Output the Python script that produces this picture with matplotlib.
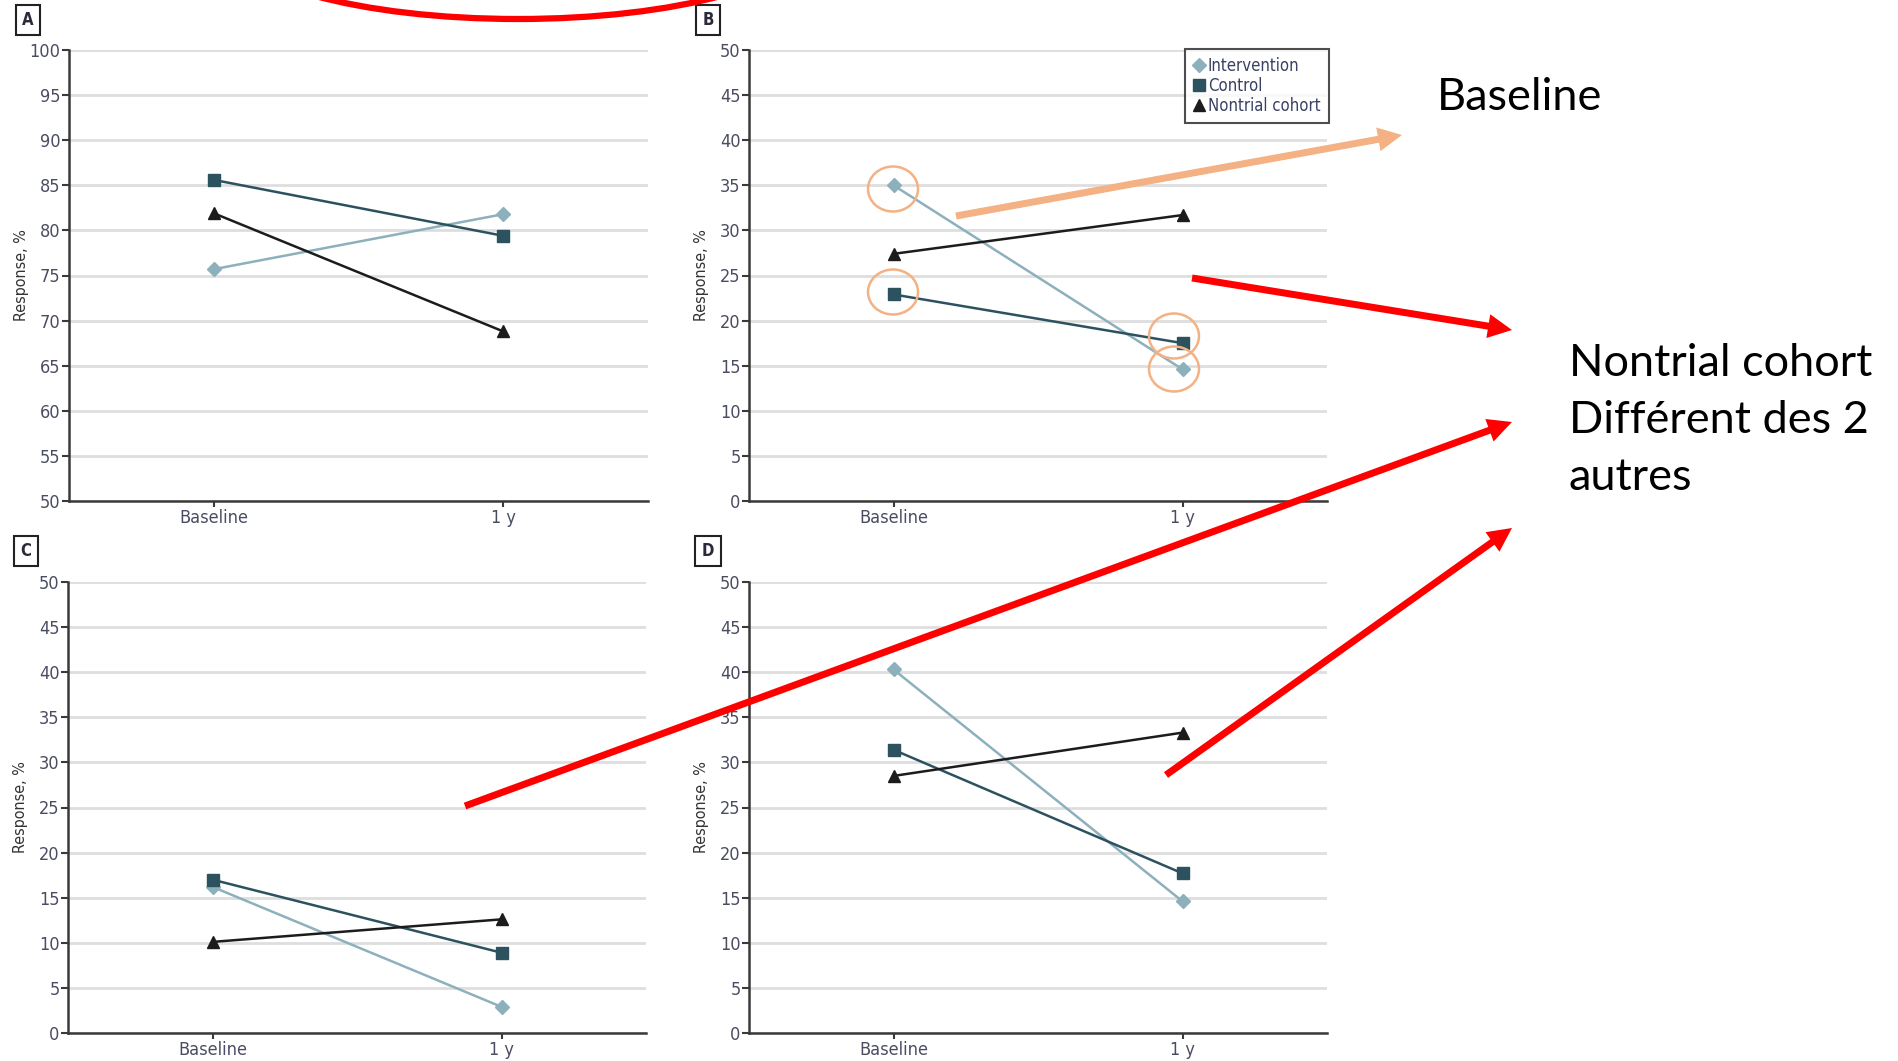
import matplotlib
matplotlib.use("Agg")
import matplotlib.pyplot as plt
from matplotlib import patches
from matplotlib.font_manager import FontProperties

# ---------------- data ----------------
timepoints = ["Baseline", "1 y"]
series_names = ["Intervention", "Control", "Nontrial cohort"]

panel_labels = ["A", "B", "C", "D"]
panel_ylims = [(50, 100), (0, 50), (0, 50), (0, 50)]

intervention_A = [75.7, 81.8]
control_A = [85.6, 79.4]
nontrial_A = [81.9, 68.8]

intervention_B = [35.0, 14.6]
control_B = [22.9, 17.5]
nontrial_B = [27.4, 31.7]

intervention_C = [16.2, 2.9]
control_C = [17.0, 8.9]
nontrial_C = [10.1, 12.6]

intervention_D = [40.3, 14.6]
control_D = [31.4, 17.7]
nontrial_D = [28.5, 33.3]

panel_data = {
    "A": [intervention_A, control_A, nontrial_A],
    "B": [intervention_B, control_B, nontrial_B],
    "C": [intervention_C, control_C, nontrial_C],
    "D": [intervention_D, control_D, nontrial_D],
}

annot_baseline = "Baseline"
annot_nontrial_lines = ["Nontrial cohort", "Différent des 2", "autres"]

# ---------------- style ----------------
colors = ["#8db0bd", "#2c5260", "#1c1c1c"]
markers = ["D", "s", "^"]
msizes = [7, 8.5, 8.5]

W, H = 1898, 1061
fig = plt.figure(figsize=(W / 100, H / 100), dpi=100)
fig.patch.set_facecolor("white")

def cfont(size, weight="normal"):
    return FontProperties(family="DejaVu Sans", stretch="condensed", size=size, weight=weight)

tick_color = "#4a4d62"

# axes boxes in pixels: left, right, top, bottom
boxes = {
    "A": (69, 648, 50, 501),
    "B": (749, 1327, 50, 501),
    "C": (68, 646, 582, 1033),
    "D": (749, 1327, 582, 1033),
}
label_pos = {"A": (28, 20), "B": (708, 20), "C": (26, 551), "D": (708, 551)}

axes = {}
for lab, ylim in zip(panel_labels, panel_ylims):
    l, r, t, b = boxes[lab]
    ax = fig.add_axes([l / W, 1 - b / H, (r - l) / W, (b - t) / H])
    axes[lab] = ax
    xs = list(range(len(timepoints)))
    for vals, c, m, ms, name in zip(panel_data[lab], colors, markers, msizes, series_names):
        ax.plot(xs, vals, color=c, lw=1.8, marker=m, ms=ms, mfc=c, mec=c,
                label=name, zorder=3)
    ax.set_xlim(-0.5, 1.5)
    ax.set_ylim(*ylim)
    ax.set_yticks(range(ylim[0], ylim[1] + 1, 5))
    ax.set_xticks(xs)
    ax.set_xticklabels(timepoints)
    ax.grid(axis="y", color="#dedede", lw=2, zorder=0)
    ax.set_axisbelow(True)
    for s in ["top", "right"]:
        ax.spines[s].set_visible(False)
    for s in ["left", "bottom"]:
        ax.spines[s].set_color("#3a3a3a")
        ax.spines[s].set_linewidth(1.8)
    ax.tick_params(axis="y", length=5, width=1.5, color="#3a3a3a", pad=1,
                   labelcolor=tick_color)
    ax.tick_params(axis="x", length=4, width=1.5, color="#3a3a3a", pad=2,
                   labelcolor=tick_color)
    for tl in ax.get_xticklabels() + ax.get_yticklabels():
        tl.set_fontproperties(cfont(13))
    ax.set_ylabel("Response, %", color="#333333", fontproperties=cfont(11.5))
    ax.yaxis.set_label_coords(-0.069, 0.5)
    fig.text(label_pos[lab][0] / W, 1 - label_pos[lab][1] / H, lab,
             ha="center", va="center", color="#2a2a3a",
             fontproperties=cfont(12, "bold"),
             bbox=dict(boxstyle="square,pad=0.38", fc="white", ec="#222222", lw=1.5))

leg = axes["B"].legend(loc="upper right", bbox_to_anchor=(1.003, 1.003), borderaxespad=0,
                       frameon=True, fancybox=False,
                       handlelength=0.6, handletextpad=0.25, labelspacing=0.12,
                       borderpad=0.5, prop=cfont(12))
leg.get_frame().set_edgecolor("#222222")
leg.get_frame().set_linewidth(1.5)
for line in leg.get_lines():
    line.set_linestyle("none")
for txt in leg.get_texts():
    txt.set_color("#3a4062")

# ---------------- overlay annotations (slide drawings) ----------------
ov = fig.add_axes([0, 0, 1, 1], zorder=10)
ov.set_xlim(0, W)
ov.set_ylim(H, 0)
ov.axis("off")
ov.patch.set_alpha(0)

red = "#ff0000"
orange = "#f4b183"

ov.add_patch(patches.Ellipse((518, -62), 580, 162, fill=False, ec=red, lw=4.5))

for cx, cy in [(893, 189), (893, 292), (1174, 336), (1174, 369)]:
    ov.add_patch(patches.Ellipse((cx, cy), 50, 45, fill=False, ec=orange, lw=1.8))

def arrow(x0, y0, x1, y1, color):
    ov.add_patch(patches.FancyArrow(x0, y0, x1 - x0, y1 - y0, width=7,
                                    head_width=24, head_length=24,
                                    length_includes_head=True, color=color, lw=0))

arrow(956, 216, 1402, 135, orange)
arrow(1192, 278, 1512, 330, red)
arrow(465, 806, 1512, 422, red)
arrow(1166, 775, 1512, 528, red)

big = dict(fontsize=32.5, family=["Lato", "DejaVu Sans"], color="black",
           ha="left", va="baseline")
ov.text(1437, 110, annot_baseline, **big)
for line_txt, yb in zip(annot_nontrial_lines, [376, 433, 490]):
    ov.text(1569, yb, line_txt, **big)

fig.savefig("out.png", dpi=100, facecolor="white")
